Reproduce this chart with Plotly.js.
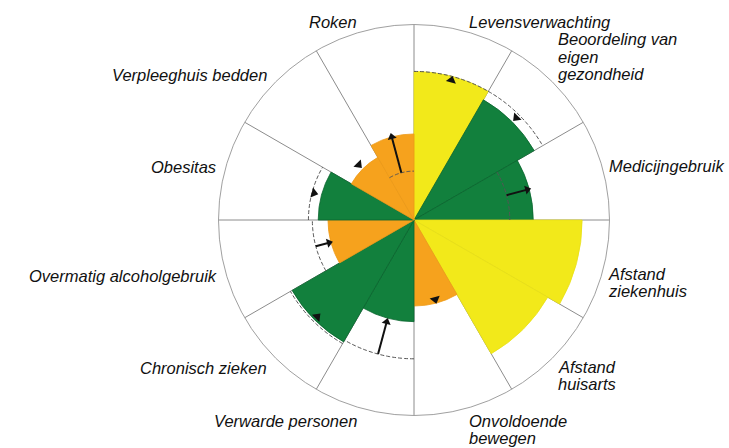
<!DOCTYPE html>
<html>
<head>
<meta charset="utf-8">
<script src="https://cdn.plot.ly/plotly-3.0.1.min.js"></script>
<style>html,body{margin:0;padding:0;background:#fff;}#chart{width:729px;height:448px;}</style>
</head>
<body>
<div id="chart"></div>
<script>
// ---- data ----
const categories = ['Levensverwachting', 'Beoordeling van<br>eigen<br>gezondheid', 'Medicijngebruik',
  'Afstand<br>ziekenhuis', 'Afstand<br>huisarts', 'Onvoldoende<br>bewegen', 'Verwarde personen',
  'Chronisch zieken', 'Overmatig alcoholgebruik', 'Obesitas', 'Verpleeghuis bedden', 'Roken'];
const values = [0.76, 0.71, 0.61, 0.86, 0.79, 0.44, 0.52, 0.72, 0.44, 0.49, 0.37, 0.44];
const scoreClass = ['geel', 'groen', 'groen', 'geel', 'geel', 'oranje', 'groen', 'groen', 'oranje', 'groen', 'oranje', 'oranje'];
const referenceValues = [0.76, 0.76, 0.49, null, null, null, 0.71, 0.73, 0.52, 0.54, null, 0.25];
const indicatorValues = [0.74, 0.74, 0.60, null, null, 0.42, 0.54, 0.70, 0.45, 0.53, 0.40, 0.44];
const indicatorTypes = ['triangle', 'triangle', 'arrow', null, null, 'triangle', 'arrow', 'triangle', 'arrow', 'triangle', 'triangle', 'arrow'];
const indicatorDirections = ['out', 'in', 'out', null, null, 'out', 'in', 'in', 'in', 'in', 'in', 'out'];

// ---- styles / layout helpers ----
const classColors = {geel: '#f2e91a', groen: '#12803d', oranje: '#f6a21d'};
const classLines = {geel: '#e8df18', groen: '#0b6630', oranje: '#ee9a18'};
const W = 729, H = 448;
const cx = 414, cy = 220, R = 195.5;
const sector = 360 / categories.length;
const thetas = categories.map((_, i) => i * sector + sector / 2);
// label placement: [x px, first baseline px, anchor]
const LH = 17.4;
const labelPlacement = [
  [468, 28, 'left'], [557, 45, 'left'], [608, 172, 'left'],
  [607, 279.8, 'left'], [557, 372.8, 'left'], [468, 426.3, 'left'],
  [358, 427, 'right'], [268, 374, 'right'], [218, 282, 'right'],
  [217, 173, 'right'], [268, 81, 'right'], [333, 28, 'center']
];
const FS = 16.5;

const traces = [];
traces.push({
  type: 'barpolar',
  r: values,
  theta: thetas,
  width: categories.map(() => sector),
  marker: {
    color: scoreClass.map(c => classColors[c]),
    line: {color: scoreClass.map(c => classLines[c]), width: 0.8}
  },
  hoverinfo: 'skip',
  showlegend: false
});

// reference dashed arcs
categories.forEach((c, i) => {
  const rv = referenceValues[i];
  if (rv === null) return;
  const t0 = i * sector, th = [], rr = [];
  for (let k = 0; k <= 30; k++) { th.push(t0 + sector * k / 30); rr.push(rv); }
  traces.push({
    type: 'scatterpolar', mode: 'lines', r: rr, theta: th,
    line: {color: '#555', width: 1, dash: '4px,2px'},
    hoverinfo: 'skip', showlegend: false
  });
});

// indicators: triangles and arrows
categories.forEach((c, i) => {
  const type = indicatorTypes[i];
  if (!type) return;
  const t = thetas[i];
  const ang = indicatorDirections[i] === 'out' ? t : t + 180;
  if (type === 'arrow') {
    traces.push({
      type: 'scatterpolar', mode: 'lines',
      r: [referenceValues[i], indicatorValues[i]], theta: [t, t],
      line: {color: '#111', width: 2},
      hoverinfo: 'skip', showlegend: false
    });
  }
  traces.push({
    type: 'scatterpolar', mode: 'markers',
    r: [indicatorValues[i]], theta: [t],
    marker: {symbol: 'triangle-up', size: type === 'arrow' ? 8 : 9, color: '#111', angle: ang, line: {width: 0}},
    hoverinfo: 'skip', showlegend: false
  });
});

// labels as annotations
const annotations = [];
categories.forEach((c, i) => {
  const [x, base, anchor] = labelPlacement[i];
  c.split('<br>').forEach((line, j) => {
    const b = base + j * LH;
    annotations.push({
      xref: 'paper', yref: 'paper',
      x: x / W, y: 1 - (b - 0.3465 * FS) / H,
      xanchor: anchor, yanchor: 'middle',
      text: line, showarrow: false, borderpad: 0,
      font: {family: 'Liberation Sans, Arial, sans-serif', size: FS, color: '#111', style: 'italic'}
    });
  });
});

const layout = {
  width: W, height: H,
  margin: {l: 0, r: 0, t: 0, b: 0},
  paper_bgcolor: '#fff',
  showlegend: false,
  polar: {
    domain: {x: [(cx - R) / W, (cx + R) / W], y: [1 - (cy + R) / H, 1 - (cy - R) / H]},
    bgcolor: '#fff',
    bargap: 0,
    angularaxis: {
      rotation: 90, direction: 'clockwise',
      tickmode: 'array', tickvals: categories.map((_, i) => i * sector),
      showticklabels: false, ticks: '',
      showgrid: true, gridcolor: '#8c8c8c', gridwidth: 1,
      showline: true, linecolor: '#a0a0a0', linewidth: 1
    },
    radialaxis: {
      range: [0, 1], showgrid: false, showline: false, showticklabels: false, ticks: ''
    }
  },
  annotations: annotations
};

Plotly.newPlot('chart', traces, layout, {staticPlot: true, displayModeBar: false});
</script>
</body>
</html>
